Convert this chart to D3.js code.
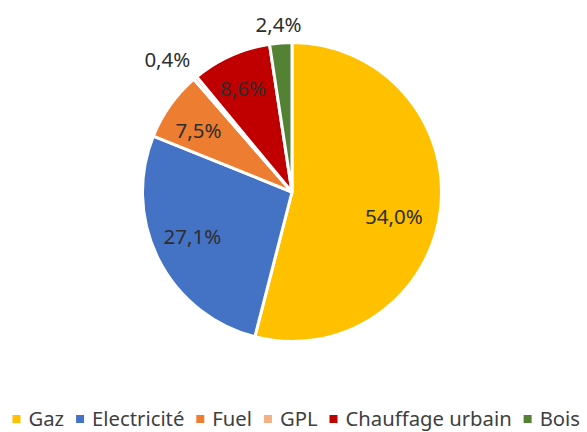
<!DOCTYPE html>
<html>
<head>
<meta charset="utf-8">
<script src="https://cdn.jsdelivr.net/npm/d3@7"></script>
<style>
  html, body { margin: 0; padding: 0; background: #ffffff; }
  svg { display: block; }
</style>
</head>
<body>
<svg id="chart" width="587" height="432"></svg>
<script>
// ---- data ----
const categories = ["Gaz", "Electricité", "Fuel", "GPL", "Chauffage urbain", "Bois"];
const values = [54.0, 27.1, 7.5, 0.4, 8.6, 2.4];
const labels = ["54,0%", "27,1%", "7,5%", "0,4%", "8,6%", "2,4%"];
const colors = ["#FFC000", "#4472C4", "#ED7D31", "#F4B183", "#C00000", "#548235"];

// ---- layout (label polar placement: radius, angle shift in degrees) ----
const labelRadius = [105, 109, 112, 182, 114, 168];
const labelShift = [6.6, 2.9, -2.1, -2.9, -1.3, -0.3];

const W = 587, H = 432;
const cx = 292, cy = 192, R = 149.5;
const font = "'Noto Sans', 'DejaVu Sans', sans-serif";
const fontSize = 20.5;

const svg = d3.select("#chart");
const g = svg.append("g").attr("transform", `translate(${cx},${cy})`);

const pie = d3.pie().sort(null).value(d => d)(values);
const arc = d3.arc().innerRadius(0).outerRadius(R);

g.selectAll("path.slice")
  .data(pie)
  .join("path")
  .attr("class", "slice")
  .attr("d", arc)
  .attr("fill", (d, i) => colors[i])
  .attr("stroke", "#ffffff")
  .attr("stroke-width", 3)
  .attr("stroke-linejoin", "round");

// labels
const capHalf = fontSize * 0.714 / 2;
g.selectAll("text.lbl")
  .data(pie)
  .join("text")
  .attr("class", "lbl")
  .attr("text-anchor", "middle")
  .attr("font-family", font)
  .attr("font-size", fontSize)
  .attr("fill", "#2e2e2e")
  .attr("x", (d, i) => {
    const a = (d.startAngle + d.endAngle) / 2 + labelShift[i] * Math.PI / 180;
    return labelRadius[i] * Math.sin(a);
  })
  .attr("y", (d, i) => {
    const a = (d.startAngle + d.endAngle) / 2 + labelShift[i] * Math.PI / 180;
    return -labelRadius[i] * Math.cos(a) + capHalf;
  })
  .text((d, i) => labels[i]);

// legend
const legendY = 419;
const sq = 8, sqGap = 8;
const legendLeft = 12.5, legendRight = 580;
const legend = svg.append("g");
const items = legend.selectAll("g.item")
  .data(categories)
  .join("g")
  .attr("class", "item");
items.append("rect")
  .attr("width", sq).attr("height", sq)
  .attr("y", legendY - sq / 2)
  .attr("fill", (d, i) => colors[i]);
const ltext = items.append("text")
  .attr("font-family", font)
  .attr("font-size", fontSize)
  .attr("fill", "#404040")
  .attr("x", sq + sqGap)
  .attr("y", legendY + capHalf)
  .text(d => d);

// fit legend font so text widths match the reference span
let textTotal = 0;
ltext.each(function () { textTotal += this.getComputedTextLength(); });
const legendFont = Math.min(fontSize, fontSize * 412 / textTotal);
ltext.attr("font-size", legendFont).attr("y", legendY + legendFont * 0.714 / 2);

const widths = [];
ltext.each(function () { widths.push(this.getComputedTextLength()); });
const sumW = d3.sum(widths) + categories.length * (sq + sqGap);
const itemGap = (legendRight - legendLeft - sumW) / (categories.length - 1);
let x = legendLeft;
const offsets = widths.map(w => { const o = x; x += sq + sqGap + w + itemGap; return o; });
items.attr("transform", (d, i) => `translate(${offsets[i]},0)`);
</script>
</body>
</html>
